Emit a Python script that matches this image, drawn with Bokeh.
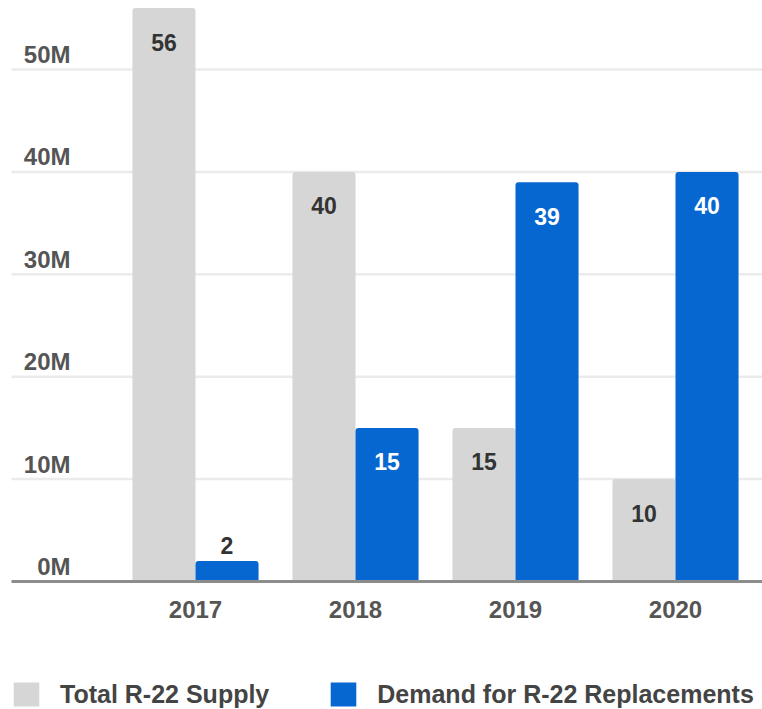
import numpy as np
from bokeh.plotting import figure
from bokeh.models import ColumnDataSource, Legend, LegendItem, Range1d
from bokeh.core.properties import value
from bokeh.embed import file_html
from bokeh.resources import INLINE

# ---- data ----
years = ["2017", "2018", "2019", "2020"]
supply = [56, 40, 15, 10]          # Total R-22 Supply (millions)
demand = [2, 15, 39, 40]           # Demand for R-22 Replacements (millions)
y_ticks = [0, 10, 20, 30, 40, 50]
y_tick_labels = ["0M", "10M", "20M", "30M", "40M", "50M"]
series_names = ["Total R-22 Supply", "Demand for R-22 Replacements"]

GRAY = "#d6d6d6"
BLUE = "#0767d1"
FONT = "Liberation Sans"

W, H = 762, 709
p = figure(width=W, height=H, output_backend="svg", toolbar_location=None,
           x_axis_type=None, y_axis_type=None, min_border=0,
           x_range=Range1d(-1.21875, 3.54375), y_range=Range1d(-12.5, 56.738))
p.outline_line_color = None
p.xgrid.visible = False
p.ygrid.visible = False
p.background_fill_color = "white"
p.border_fill_color = "white"

idx = np.arange(len(years))
off = 0.197
bw = 0.394

# gridlines (drawn first, under the bars)
grid_y = [t for t in y_ticks if t != 0]
p.segment(x0=[-1.15] * len(grid_y), x1=[3.6] * len(grid_y), y0=grid_y, y1=grid_y,
          line_color="#ebebeb", line_width=2.5)

src = ColumnDataSource(dict(
    xg=idx - off, xb=idx + off, supply=supply, demand=demand,
))

r_gray = p.vbar(x="xg", top="supply", bottom=0, width=bw, source=src,
                fill_color=GRAY, line_color=None, border_radius=(3, 3, 0, 0))
r_blue = p.vbar(x="xb", top="demand", bottom=0, width=bw, source=src,
                fill_color=BLUE, line_color=None, border_radius=(3, 3, 0, 0))

# baseline
p.segment(x0=[-1.15], x1=[3.6], y0=[0], y1=[0], line_color="#8c8c8c", line_width=3)

# y tick labels (above gridlines)
p.text(x=[-0.78125] * len(y_ticks), y=y_ticks, text=y_tick_labels,
       text_font=value(FONT), text_font_style="bold", text_font_size="24px",
       text_color="#555555", text_align="right", text_baseline="alphabetic",
       y_offset=-15)

# year labels
p.text(x=idx, y=[0] * len(years), text=years,
       text_font=value(FONT), text_font_style="bold", text_font_size="24px",
       text_color="#555555", text_align="center", text_baseline="alphabetic",
       y_offset=28)

# value labels
THRESH = 5
def add_labels(xs, vals, inside_color):
    xin = [x for x, v in zip(xs, vals) if v >= THRESH]
    vin = [v for v in vals if v >= THRESH]
    xout = [x for x, v in zip(xs, vals) if v < THRESH]
    vout = [v for v in vals if v < THRESH]
    if xin:
        p.text(x=xin, y=vin, text=[str(v) for v in vin],
               text_font=value(FONT), text_font_style="bold", text_font_size="23px",
               text_color=inside_color, text_align="center", text_baseline="alphabetic",
               y_offset=34)
    if xout:
        p.text(x=xout, y=vout, text=[str(v) for v in vout],
               text_font=value(FONT), text_font_style="bold", text_font_size="23px",
               text_color="#333333", text_align="center", text_baseline="alphabetic",
               y_offset=-16)

add_labels(list(idx - off), supply, "#333333")
add_labels(list(idx + off), demand, "#ffffff")

legend = Legend(items=[LegendItem(label=series_names[0], renderers=[r_gray]),
                       LegendItem(label=series_names[1], renderers=[r_blue])],
                orientation="horizontal", location=(10, 0),
                glyph_width=32, glyph_height=30, label_standoff=18, spacing=58,
                padding=0, margin=0, border_line_color=None, background_fill_alpha=0,
                label_text_font=FONT, label_text_font_style="bold",
                label_text_font_size="25px", label_text_color="#444444",
                label_height=30)
p.add_layout(legend)

open("out.html", "w").write(file_html(p, INLINE))
